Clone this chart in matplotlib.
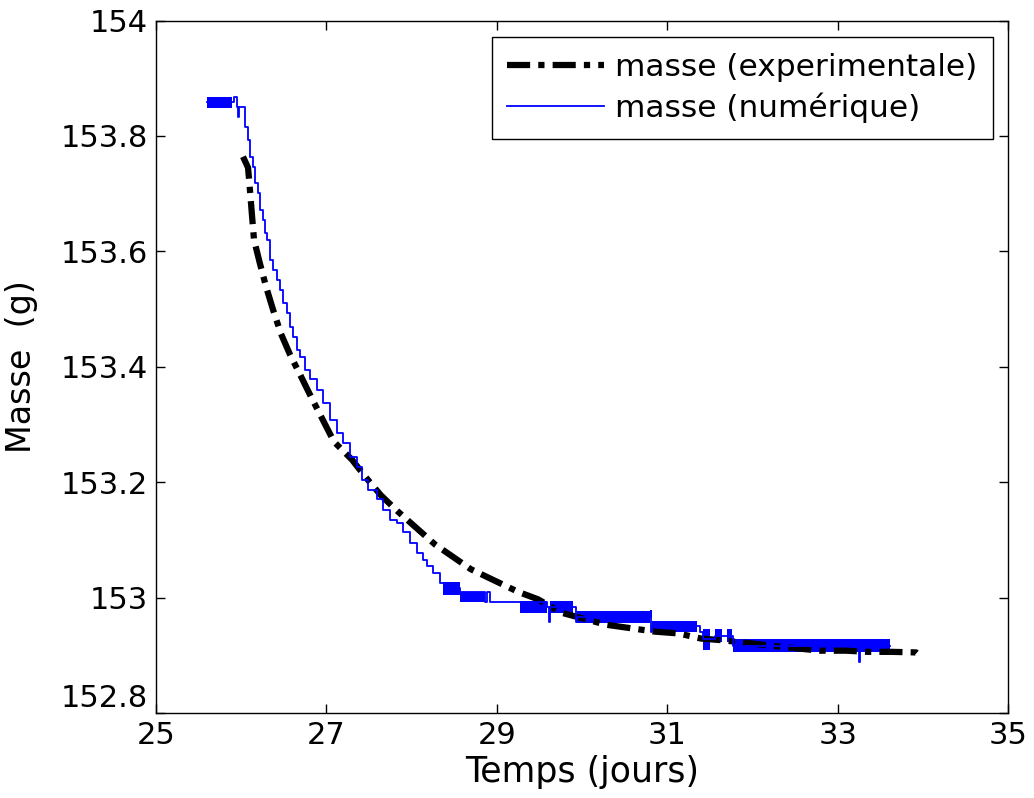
import numpy as np
import matplotlib.pyplot as plt

plt.rcParams['font.family'] = ['DejaVu Sans']

# masse experimentale (g) en fonction du temps (jours)
exp_t = [26.021, 26.080, 26.103, 26.127, 26.150, 26.221, 26.291, 26.373, 26.467,
         26.573, 26.702, 26.819, 27.089, 27.300, 27.453, 27.641, 27.840, 28.275,
         28.697, 29.249, 29.484, 29.754, 30.282, 30.857, 31.127, 31.397, 31.655,
         32.200, 32.793, 33.099, 33.357, 33.627, 33.920, 33.967]
exp_m = [153.764, 153.745, 153.705, 153.661, 153.620, 153.578, 153.539, 153.499, 153.457,
         153.421, 153.383, 153.348, 153.270, 153.239, 153.210, 153.177, 153.149, 153.092,
         153.049, 153.010, 152.997, 152.974, 152.953, 152.941, 152.938, 152.929, 152.926,
         152.917, 152.908, 152.908, 152.906, 152.906, 152.905, 152.899]

# masse numerique : trace principale (en escalier)
num_t = [25.600, 25.915, 25.915, 25.951, 25.951, 25.962, 25.962, 25.975, 25.975, 26.021,
         26.045, 26.080, 26.103, 26.138, 26.162, 26.197, 26.221, 26.256, 26.279, 26.303,
         26.338, 26.373, 26.420, 26.455, 26.491, 26.538, 26.573, 26.608, 26.655, 26.690,
         26.749, 26.808, 26.890, 26.960, 27.042, 27.124, 27.195, 27.277, 27.359, 27.418,
         27.488, 27.594, 27.664, 27.746, 27.829, 27.899, 27.981, 28.063, 28.134, 28.181,
         28.251, 28.333, 28.415,
         28.568, 28.862, 28.885, 28.885, 28.920, 28.920, 29.272, 29.589, 29.607, 29.607,
         29.624, 29.894, 29.924, 29.924, 29.941, 30.798, 30.810, 30.810, 30.822, 31.350,
         31.385, 31.420, 31.502, 31.561, 31.643, 31.702, 31.761, 31.772, 33.251, 33.251,
         33.263, 33.263, 33.615]
num_m = [153.858, 153.858, 153.867, 153.867, 153.850, 153.850, 153.833, 153.833, 153.850, 153.850,
         153.816, 153.793, 153.764, 153.746, 153.719, 153.701, 153.672, 153.655, 153.632, 153.620,
         153.585, 153.568, 153.551, 153.533, 153.511, 153.494, 153.469, 153.452, 153.429, 153.417,
         153.395, 153.378, 153.360, 153.338, 153.308, 153.286, 153.268, 153.244, 153.227, 153.204,
         153.187, 153.170, 153.152, 153.135, 153.130, 153.113, 153.095, 153.078, 153.066, 153.054,
         153.043, 153.026, 153.017,
         153.009, 152.993, 152.993, 153.009, 153.009, 152.993, 152.993, 152.983, 152.983, 152.958,
         152.983, 152.983, 152.983, 152.957, 152.966, 152.966, 152.976, 152.941, 152.950, 152.950,
         152.941, 152.928, 152.928, 152.934, 152.934, 152.934, 152.934, 152.916, 152.916, 152.889,
         152.889, 152.916, 152.916]

# intervalles ou la trace numerique oscille entre deux niveaux
flick_t0 = [25.599, 28.369, 28.568, 29.272, 29.624, 29.941, 30.822, 31.420, 31.561, 31.702, 31.772]
flick_t1 = [25.892, 28.568, 28.862, 29.589, 29.894, 30.798, 31.350, 31.502, 31.643, 31.761, 33.615]
flick_lo = [153.849, 153.004, 152.992, 152.973, 152.973, 152.956, 152.940, 152.909, 152.923, 152.923, 152.905]
flick_hi = [153.868, 153.027, 153.010, 152.994, 152.994, 152.977, 152.959, 152.946, 152.946, 152.946, 152.928]

xticks = [25, 27, 29, 31, 33, 35]
yticks = [152.8, 153.0, 153.2, 153.4, 153.6, 153.8, 154.0]
ytick_labels = ['152.8', '153', '153.2', '153.4', '153.6', '153.8', '154']

fig = plt.figure(figsize=(10.34, 7.98), dpi=100)
ax = fig.add_axes([0.1509, 0.1065, 0.8240, 0.8678])

ax.plot(exp_t, exp_m, color='black', lw=4.5, linestyle=(0, (3.7, 1.3, 1.0, 1.3)),
        label='masse (experimentale)')
ax.plot(num_t, num_m, color='blue', lw=1.3, drawstyle='steps-post',
        label='masse (numérique)')
for t0, t1, lo, hi in zip(flick_t0, flick_t1, flick_lo, flick_hi):
    ax.fill_between([t0, t1], [lo, lo], [hi, hi], color='blue', lw=0)

ax.set_xlim(25, 35)
ax.set_ylim(152.8, 154)
ax.set_xticks(xticks)
ax.set_xticklabels([str(v) for v in xticks])
ax.set_yticks(yticks)
ax.set_yticklabels(ytick_labels)
ax.tick_params(direction='in', length=6.5, width=1, top=True, right=True,
               labelsize=22, pad=6)
# lowest y label sits just above the corner, as in the original
ax.get_yticklabels()[0].set_verticalalignment('bottom')
for s in ax.spines.values():
    s.set_linewidth(1)

ax.set_xlabel('Temps (jours)', fontsize=25)
ax.set_ylabel('Masse  (g)', fontsize=24)
ax.xaxis.set_label_coords(0.5, -0.060)
ax.yaxis.set_label_coords(-0.139, 0.5)

leg = ax.legend(loc='upper right', bbox_to_anchor=(0.9824, 0.9762), borderaxespad=0,
                fontsize=22.5, handlelength=3.1, handletextpad=0.35, borderpad=0.5,
                labelspacing=0.35, fancybox=False, framealpha=1, edgecolor='black')
leg.get_frame().set_linewidth(1)

fig.savefig('out.png', dpi=100)
